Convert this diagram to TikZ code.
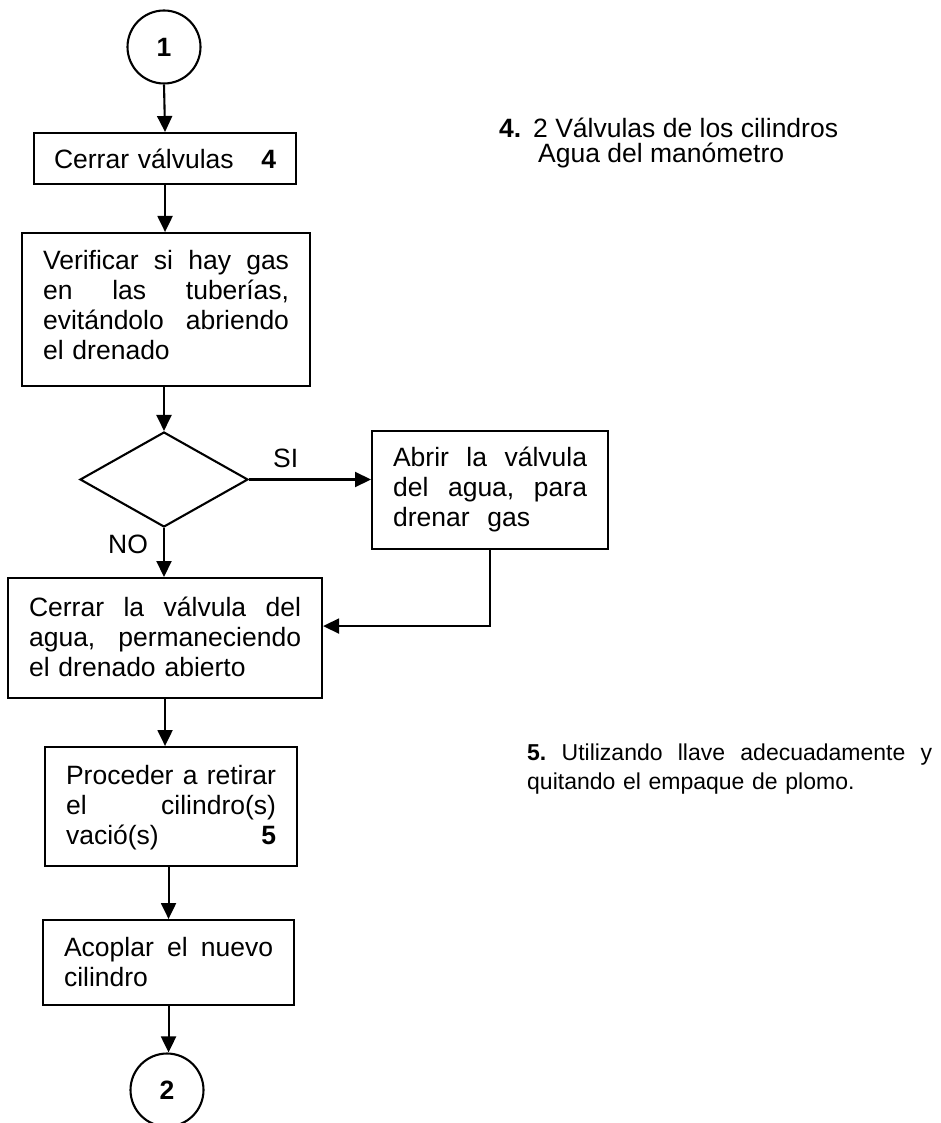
\documentclass[tikz,border=0pt]{standalone}
\usepackage{fontspec}
\setmainfont{Liberation Sans}
\usetikzlibrary{arrows.meta,shapes.geometric}
\newcommand\jsp{\ \hfill}
\begin{document}
\begin{tikzpicture}[x=1pt,y=-1pt,
  font=\fontsize{26.5}{30}\selectfont,
  box/.style={draw,line width=2.1pt,rectangle,anchor=north west,inner ysep=0pt,inner xsep=21pt,align=left},
  conn/.style={draw,line width=2.1pt,circle,minimum size=73pt,inner sep=0pt,font=\fontsize{26.5}{30}\selectfont\bfseries},
  dec/.style={draw,line width=2.1pt,diamond,minimum width=168pt,minimum height=95pt,inner sep=0pt},
  arr/.style={line width=2.1pt,-{Triangle[length=16pt,width=15pt]}},
  lbl/.style={anchor=base west,inner sep=0pt}]
\useasboundingbox (0,0) rectangle (940,1123);

\node[conn] (o1) at (164,47) {1};
\node[box,inner xsep=20pt,text width=222pt,text height=35pt,text depth=16pt] (c1) at (33,132)
  {Cerrar válvulas\hfill\textbf{4}\hspace*{7pt}};
\node[box,text width=246pt,text height=36pt,text depth=117pt] (v) at (21,232)
  {Verificar\jsp si\jsp hay\jsp gas\\en\jsp las\jsp tuberías,\\evitándolo\jsp abriendo\\el drenado};
\node[dec] (d) at (164,479.5) {};
\node[box,text width=194pt,text height=35pt,text depth=83pt] (a) at (371,430)
  {Abrir\jsp la\jsp válvula\\del\jsp agua,\jsp para\\drenar\ \ gas};
\node[box,text width=272pt,text height=38pt,text depth=82pt] (c2) at (7,577)
  {Cerrar\jsp la\jsp válvula\jsp del\\agua,\jsp permaneciendo\\el drenado abierto};
\node[box,text width=210pt,text height=37pt,text depth=82pt] (p) at (44,746)
  {Proceder\jsp a\jsp retirar\\el\jsp cilindro(s)\\vació(s)\hfill\textbf{5}\hspace*{15pt}};
\node[box,text width=209pt,text height=36pt,text depth=49pt] (ac) at (42,919)
  {Acoplar\jsp el\jsp nuevo\\cilindro};
\node[conn] (o2) at (167,1090) {2};

\draw[arr] (o1.south) -- (c1.north);
\draw[arr] (c1.south) -- (c1.south |- v.north);
\draw[arr] (d.north |- v.south) -- (d.north);
\draw[arr] (d.east) -- (d.east -| a.west);
\draw[arr] (d.south) -- (d.south |- c2.north);
\draw[arr] (a.south) |- ([yshift=12pt]c2.east);
\draw[arr] (c2.south) -- (c2.south |- p.north);
\draw[arr] (ac.north |- p.south) -- (ac.north);
\draw[arr] (ac.south) -- (ac.south |- o2.north);

\node[lbl] (si) at (273,467) {SI};
\node[lbl] (no) at (108,553) {NO};

\node[lbl] (n4a) at (499,138) {\textbf{4.}};
\node[lbl] (n4b) at (533,138) {2 Válvulas de los cilindros};
\node[lbl] (n4c) at (538,163) {Agua del manómetro};
\node[lbl,text width=410pt,align=left,font=\fontsize{23}{29}\selectfont] (n5) at (527,760)
  {\hbox to 405pt{\textbf{5.}\jsp Utilizando\jsp llave\jsp adecuadamente\jsp y}\\quitando el empaque de plomo.};
\end{tikzpicture}
\end{document}
